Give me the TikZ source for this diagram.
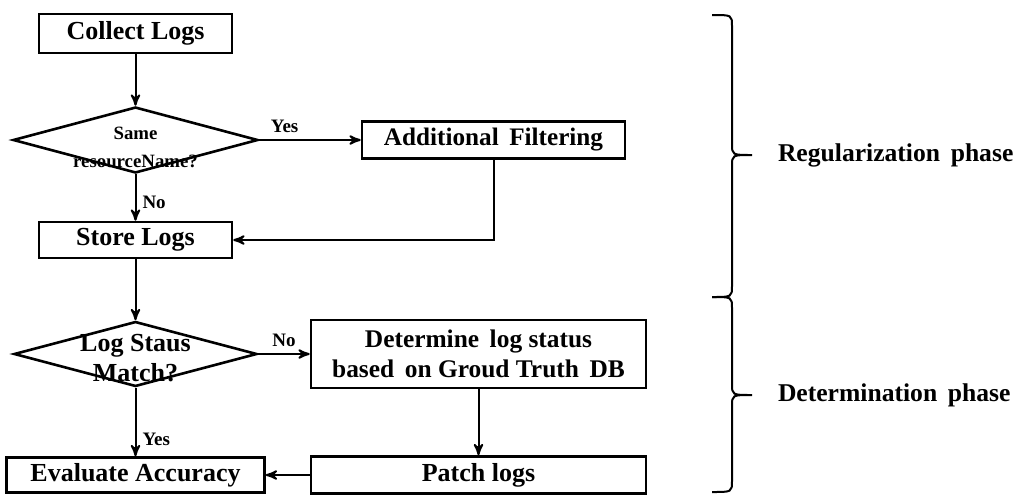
\documentclass[tikz,border=0pt]{standalone}
\usepackage{fontspec}
\setmainfont{Liberation Serif}
\usetikzlibrary{arrows,positioning,shapes.geometric}

\begin{document}
\begin{tikzpicture}[->,>=stealth',line width=1pt,node distance=50pt]

        \tikzstyle{box}=[rectangle,draw=black,fill=white,line width=1.3pt,inner sep=0pt,font=\fontsize{13}{15}\selectfont\bfseries]
        \tikzstyle{decision}=[diamond,draw=black,fill=white,line width=1.3pt,inner sep=0pt]
        \tikzstyle{dtext}=[align=center,inner sep=0pt]
        \tikzstyle{lbl}=[font=\fontsize{9.5}{11}\selectfont\bfseries,inner sep=3pt]
        \tikzstyle{phase}=[font=\fontsize{12.8}{15}\selectfont\bfseries,anchor=west,inner sep=0pt]
        \tikzstyle{brace}=[-,line width=1pt]

        \useasboundingbox (0,0) rectangle (509pt,-247pt);

        \node[box, minimum width=96.5pt, minimum height=19.5pt] (collect) at (67.75pt,-16.75pt) {Collect Logs};
        \node[decision, minimum width=122.5pt, minimum height=33pt,
              label={[dtext,font=\fontsize{9.4}{14}\selectfont\bfseries,yshift=-3.5pt]center:Same\\resourceName?}]
                                (same)      [below of = collect, node distance=53.25pt] {};
        \node[box, minimum width=96.5pt, minimum height=18pt]
                                (store)     [below of = same, node distance=50pt]       {Store Logs};
        \node[decision, minimum width=121.5pt, minimum height=32.5pt,
              label={[dtext,font=\fontsize{13}{15}\selectfont\bfseries,yshift=-2pt]center:Log Staus\\Match?}]
                                (match)     [below of = store, node distance=57pt]      {};
        \node[box, minimum width=129pt, minimum height=17.5pt]
                                (eval)      [below of = match, node distance=60.5pt]    {Evaluate Accuracy};
        \node[box, minimum width=131.5pt, minimum height=18.5pt, font=\fontsize{12.6}{15}\selectfont\bfseries]
                                (filter)    [right of = same, node distance=179pt]      {Additional \,Filtering};
        \node[box, minimum width=167.5pt, minimum height=34pt, align=center, font=\fontsize{12.7}{15}\selectfont\bfseries]
                                (determine) [right of = match, node distance=171.5pt]   {Determine \,log status\\based \,on Groud Truth \,DB};
        \node[box, minimum width=167.5pt, minimum height=18.5pt]
                                (patch)     [below of = determine, node distance=60.5pt] {Patch logs};

        \path
        (collect)   edge                                   (same)
        (same)      edge node[lbl, above, pos=0.25] {Yes}  (filter)
        (same)      edge node[lbl, right, pos=0.6]  {No}   (store)
        (store)     edge                                   (match)
        (match)     edge node[lbl, above]           {No}   (determine)
        (match)     edge node[lbl, right, pos=0.75] {Yes}  (eval)
        (determine) edge                                   (patch)
        (patch)     edge                                   (eval)
    ;
        \draw (filter.south) |- (store.east);

        % phase braces
        \draw[brace] (356pt,-7.5pt) .. controls (366pt,-7.5pt) .. (366pt,-13pt) -- (366pt,-72pt)
              .. controls (366pt,-77.5pt) .. (376pt,-77.5pt) .. controls (366pt,-77.5pt) .. (366pt,-83pt)
              -- (366pt,-143pt) .. controls (366pt,-148.5pt) .. (356pt,-148.5pt);
        \draw[brace] (356pt,-148.5pt) .. controls (366pt,-148.5pt) .. (366pt,-154pt) -- (366pt,-192pt)
              .. controls (366pt,-197.5pt) .. (376pt,-197.5pt) .. controls (366pt,-197.5pt) .. (366pt,-203pt)
              -- (366pt,-240.5pt) .. controls (366pt,-246pt) .. (356pt,-246pt);
        \coordinate (regtip) at (376pt,-77.5pt);
        \coordinate (dettip) at (376pt,-197.5pt);
        \node[phase, right=12.5pt of regtip] (regphase) {Regularization \,phase};
        \node[phase, right=12.5pt of dettip] (detphase) {Determination \,phase};
    \end{tikzpicture}
\end{document}
